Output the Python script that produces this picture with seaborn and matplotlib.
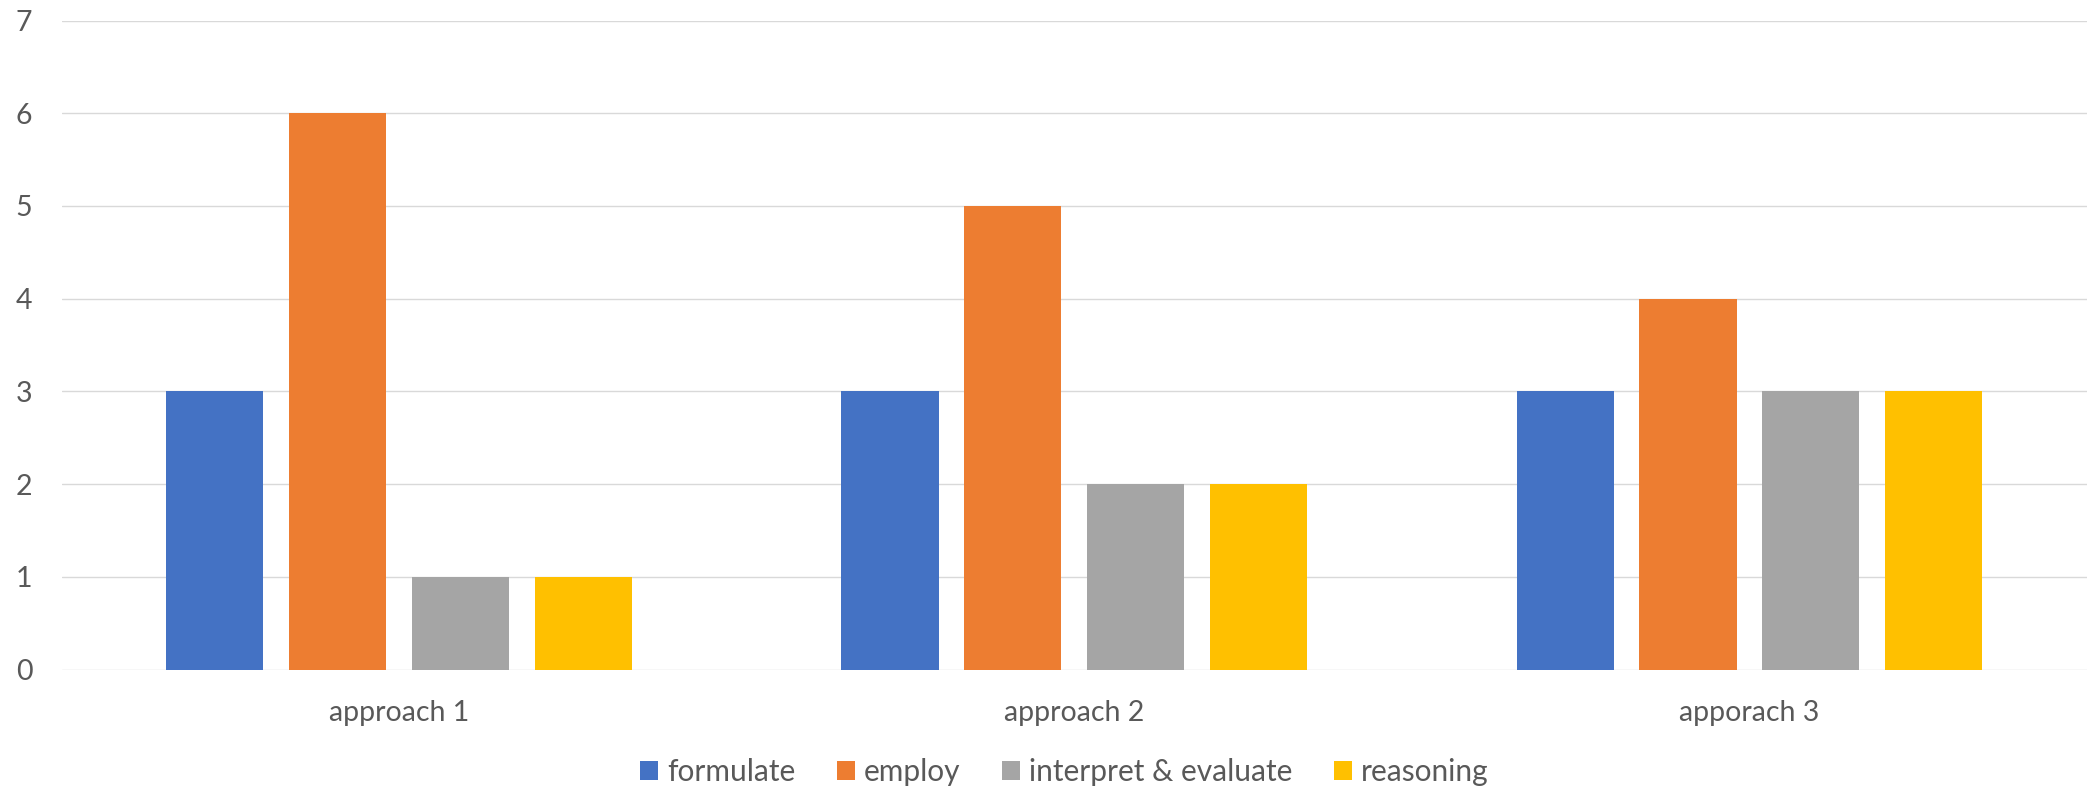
import matplotlib
matplotlib.use("Agg")
import matplotlib.pyplot as plt
import seaborn as sns
import pandas as pd

# Scores by approach and competency
categories = ["approach 1", "approach 2", "apporach 3"]
series_names = ["formulate", "employ", "interpret & evaluate", "reasoning"]
formulate = [3, 3, 3]
employ = [6, 5, 4]
interpret_evaluate = [1, 2, 3]
reasoning = [1, 2, 3]
y_ticks = [0, 1, 2, 3, 4, 5, 6, 7]

colors = ["#4472C4", "#ED7D31", "#A5A5A5", "#FFC000"]
text_color = "#595959"
grid_color = "#D9D9D9"

rows = []
for name, vals in zip(series_names, [formulate, employ, interpret_evaluate, reasoning]):
    for cat, v in zip(categories, vals):
        rows.append({"category": cat, "series": name, "value": v})
df = pd.DataFrame(rows)

sns.set_theme(style="white")
plt.rcParams["font.family"] = ["Lato", "DejaVu Sans"]

fig = plt.figure(figsize=(20.87, 7.91), dpi=100)
ax = fig.add_axes([0.0295, 0.1536, 0.9705, 0.8204])

sns.barplot(data=df, x="category", y="value", hue="series",
            order=categories, hue_order=series_names, palette=colors,
            width=0.728, gap=0.21, saturation=1, errorbar=None,
            linewidth=0, ax=ax, zorder=3)

ax.set_ylim(0, 7)
ax.set_yticks(y_ticks)
ax.set_xlim(-0.5, len(categories) - 0.5)
ax.yaxis.grid(True, color=grid_color, linewidth=1.0, zorder=0)
ax.set_axisbelow(True)
for s in ax.spines.values():
    s.set_visible(False)
ax.set_xlabel("")
ax.set_ylabel("")
ax.tick_params(axis="y", length=0, pad=21, labelsize=20.5, labelcolor=text_color)
ax.tick_params(axis="x", length=0, pad=22, labelsize=20.5, labelcolor=text_color)

handles, labels = ax.get_legend_handles_labels()
ax.get_legend().remove()
leg = fig.legend(handles, labels, loc="center", ncol=4,
                 bbox_to_anchor=(0.51, 0.024), frameon=False,
                 fontsize=21.5, handlelength=0.6, handleheight=0.6,
                 handletextpad=0.3, columnspacing=1.4)
for t in leg.get_texts():
    t.set_color(text_color)

fig.savefig("out.png", dpi=100)
